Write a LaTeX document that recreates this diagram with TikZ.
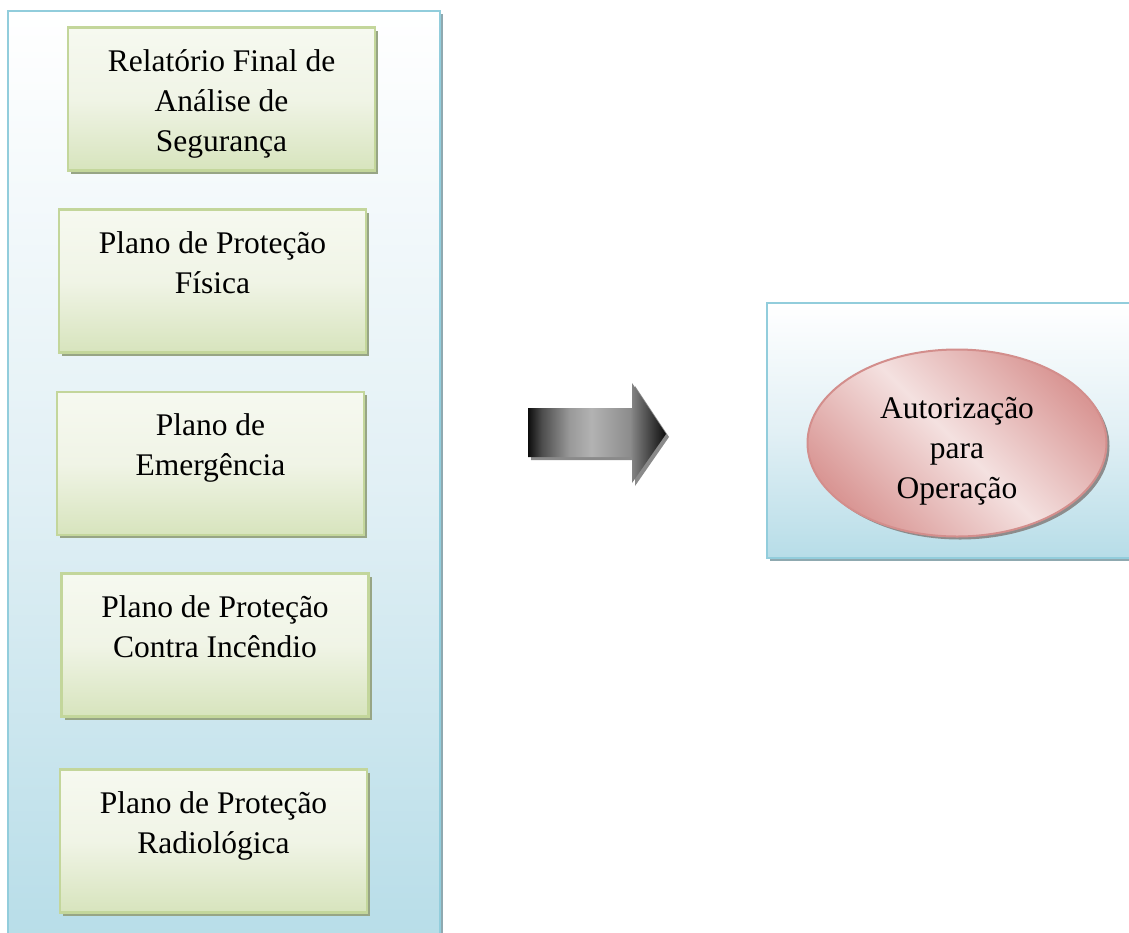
\documentclass[tikz,border=0pt]{standalone}
\usepackage{fontspec}
\setmainfont{Liberation Serif}
\usetikzlibrary{shapes.geometric,shadows}
\definecolor{panelborder}{HTML}{92CDDC}
\definecolor{panelmid}{HTML}{E2F0F5}
\definecolor{panelbot}{HTML}{B7DDE8}
\definecolor{panelshadow}{HTML}{8FA9B0}
\definecolor{gborder}{HTML}{C3D69B}
\definecolor{gtop}{HTML}{F6F9F0}
\definecolor{gmid}{HTML}{F0F4E6}
\definecolor{gbot}{HTML}{D7E4BD}
\definecolor{gshadow}{HTML}{97A585}
\definecolor{eborder}{HTML}{D38E8C}
\definecolor{eout}{HTML}{D99694}
\definecolor{ein}{HTML}{F4E1E0}
\definecolor{arrowshadow}{HTML}{8A8A8A}
\pgfdeclarehorizontalshading{arrowshade}{100bp}{color(0bp)=(black!95); color(25bp)=(black!95); color(30bp)=(black!70); color(40bp)=(black!40); color(48bp)=(black!30); color(62bp)=(black!45); color(63bp)=(black!50); color(75bp)=(black!95); color(100bp)=(black!95)}
\newcommand\mylblfont{\fontsize{31.5}{40}\selectfont}
\newcommand\mytallstrut{\rule{0pt}{36pt}}
\begin{document}
\begin{tikzpicture}[x=1pt,y=-1pt,
  panel/.style={draw=panelborder, line width=2.4pt, top color=white, bottom color=panelbot, middle color=panelmid, inner sep=0pt, anchor=north west,
    drop shadow={shadow xshift=3pt, shadow yshift=-3pt, fill=panelshadow, opacity=1}},
  gbox/.style={draw=gborder, line width=2.4pt, top color=gtop, bottom color=gbot, middle color=gmid,
    minimum width=307pt, minimum height=143pt, inner sep=0pt, align=center, font=\mylblfont,
    drop shadow={shadow xshift=3pt, shadow yshift=-3pt, fill=gshadow, opacity=1}},
  oval/.style={ellipse, draw=eborder, line width=2pt, top color=eout, bottom color=eout, middle color=ein, shading angle=-45,
    minimum width=299pt, minimum height=187pt, inner sep=0pt,
    drop shadow={shadow xshift=3pt, shadow yshift=-3pt, fill=black!45, opacity=1}},
  lbl/.style={align=center, font=\mylblfont, inner sep=0pt}
]
\clip (0,0) rectangle (1129,932);
\fill[white] (0,0) rectangle (1129,932);

% panels
\node[panel, minimum width=432pt, minimum height=935pt] (leftpanel) at (7,10) {};
\node[panel, minimum width=372pt, minimum height=255pt] (rightpanel) at (766,302) {};

% green boxes
\node[gbox] (b1) at (221.5,99) {Relatório Final de\mytallstrut\\Análise de\strut\\Segurança\strut};
\node[gbox] (b2) at (212.5,281) {Plano de Proteção\mytallstrut\\Física\strut\\\strut};
\node[gbox] (b3) at (210.5,463.5) {Plano de\mytallstrut\\Emergência\strut\\\strut};
\node[gbox] (b4) at (215,645) {Plano de Proteção\mytallstrut\\Contra Incêndio\strut\\\strut};
\node[gbox] (b5) at (213.5,841) {Plano de Proteção\mytallstrut\\Radiológica\strut\\\strut};

% block arrow
\fill[arrowshadow] (531,411) -- (635,411) -- (635,386) -- (669,437) -- (635,486) -- (635,460) -- (531,460) -- cycle;
\shade[shading=arrowshade] (528,408) -- (632,408) -- (632,383) -- (666,434) -- (632,483) -- (632,457) -- (528,457) -- cycle;

% ellipse
\node[oval] (auth) at (957,443) {};
\node[lbl] (authtxt) at ([yshift=-7pt]auth.center) {Autorização\strut\\para\strut\\Operação\strut};
\end{tikzpicture}
\end{document}
